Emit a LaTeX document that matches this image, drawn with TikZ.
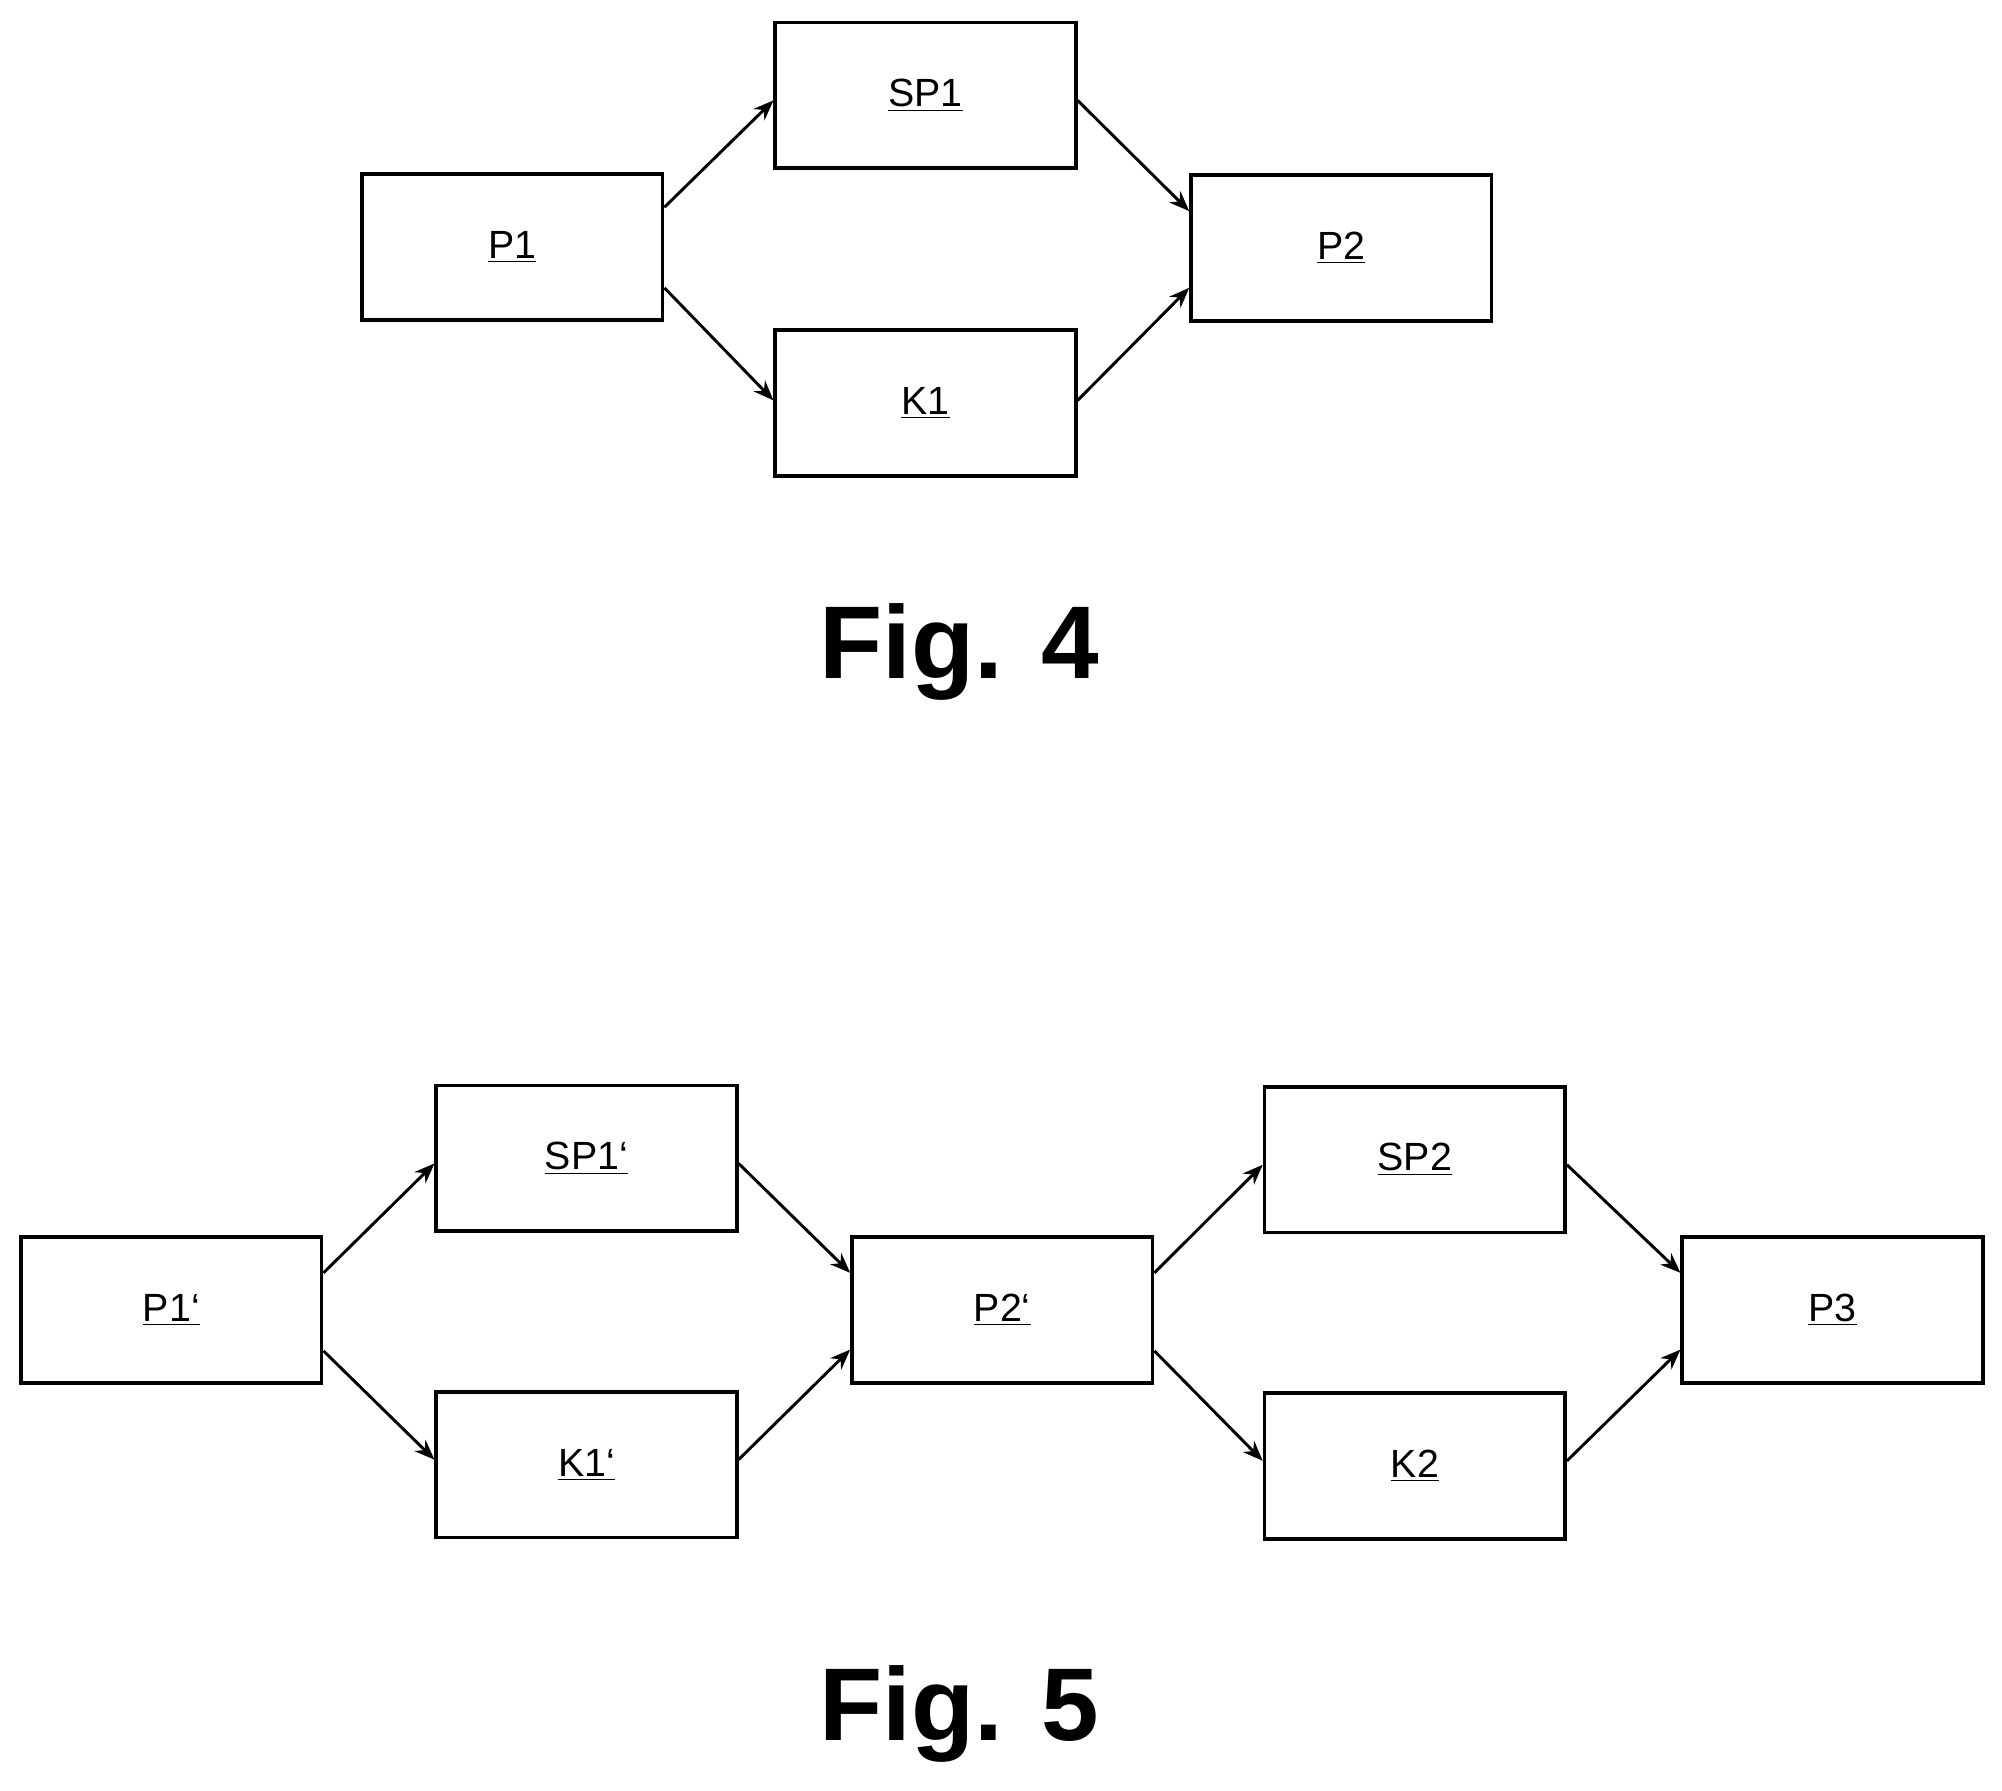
\documentclass[tikz,border=0pt]{standalone}
\usepackage{fontspec}
\setmainfont{Liberation Sans}
\usetikzlibrary{calc,arrows.meta}
\begin{document}
\begin{tikzpicture}[x=0.02cm,y=-0.02cm,
  box/.style={draw,line width=1.6pt,minimum width=4.7cm,minimum height=2.28cm,inner sep=0pt,font=\fontsize{17.5}{20}\selectfont},
  arr/.style={line width=1.3pt,-{Stealth[length=9pt,width=7pt]}},
  fig/.style={font=\fontsize{46}{50}\selectfont\bfseries}]
\useasboundingbox (0,0) rectangle (1565,1400);
% Fig 4
\node[box] (P1) at (400.5,193) {\underline{P1}};
\node[box] (SP1) at (723.5,74.5) {\underline{SP1}};
\node[box] (K1) at (723.5,315) {\underline{K1}};
\node[box] (P2) at (1048.5,194) {\underline{P2}};
\draw[arr] ($(P1.east)+(0,-31)$) -- ($(SP1.west)+(0,4)$);
\draw[arr] ($(P1.east)+(0,32)$) -- ($(K1.west)+(0,-2)$);
\draw[arr] ($(SP1.east)+(0,4)$) -- ($(P2.west)+(0,-29)$);
\draw[arr] ($(K1.east)+(0,-2)$) -- ($(P2.west)+(0,31)$);
\node[fig] (f4) at (750,510) {Fig. 4};
% Fig 5
\node[box] (Q1) at (134,1024) {\underline{P1‘}};
\node[box] (SQ1) at (458.5,905.5) {\underline{SP1‘}};
\node[box] (L1) at (458.5,1145) {\underline{K1‘}};
\node[box] (Q2) at (783.5,1024) {\underline{P2‘}};
\node[box] (SQ2) at (1106,906.5) {\underline{SP2}};
\node[box] (L2) at (1106,1146) {\underline{K2}};
\node[box] (Q3) at (1432.5,1024) {\underline{P3}};
\foreach \a/\b/\c in {Q1/SQ1/L1,Q2/SQ2/L2}{
  \draw[arr] ($(\a.east)+(0,-29)$) -- ($(\b.west)+(0,4)$);
  \draw[arr] ($(\a.east)+(0,32)$) -- ($(\c.west)+(0,-4)$);}
\foreach \b/\c/\d in {SQ1/L1/Q2,SQ2/L2/Q3}{
  \draw[arr] ($(\b.east)+(0,4)$) -- ($(\d.west)+(0,-29)$);
  \draw[arr] ($(\c.east)+(0,-4)$) -- ($(\d.west)+(0,31)$);}
\node[fig] (f5) at (750,1340) {Fig. 5};
\end{tikzpicture}
\end{document}
